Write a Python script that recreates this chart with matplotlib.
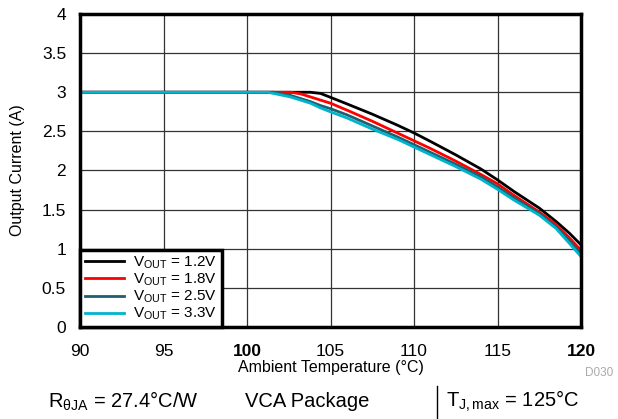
import matplotlib
matplotlib.use("Agg")
import matplotlib.pyplot as plt
import numpy as np

plt.rcParams['font.family'] = ['Liberation Sans', 'DejaVu Sans']
plt.rcParams['mathtext.fontset'] = 'custom'
plt.rcParams['mathtext.rm'] = 'Liberation Sans'
plt.rcParams['mathtext.it'] = 'Liberation Sans'

temps = [90, 100, 101.2, 101.6, 102.6, 103.2, 103.8, 104.4, 105, 106, 107.5, 109, 110, 111, 112.5, 114, 115, 116, 117.5, 118.5, 119.3, 120]
v12 = [3.0, 3.0, 3.0, 3.0, 3.0, 3.0, 3.0, 2.985, 2.935, 2.85, 2.72, 2.58, 2.48, 2.37, 2.20, 2.02, 1.88, 1.73, 1.52, 1.35, 1.20, 1.05]
v18 = [3.0, 3.0, 3.0, 3.0, 3.0, 2.98, 2.94, 2.90, 2.86, 2.77, 2.63, 2.48, 2.38, 2.28, 2.12, 1.95, 1.83, 1.68, 1.47, 1.31, 1.14, 0.98]
v25 = [3.0, 3.0, 3.0, 3.0, 2.96, 2.92, 2.88, 2.83, 2.79, 2.71, 2.57, 2.43, 2.33, 2.23, 2.08, 1.92, 1.79, 1.65, 1.45, 1.28, 1.10, 0.94]
v33 = [3.0, 3.0, 3.0, 2.985, 2.94, 2.90, 2.86, 2.80, 2.75, 2.67, 2.53, 2.40, 2.30, 2.20, 2.05, 1.89, 1.76, 1.62, 1.43, 1.26, 1.07, 0.90]
labels = ['1.2V', '1.8V', '2.5V', '3.3V']
colors = ['#000000', '#FF0000', '#1E5F70', '#00B4CC']

fig = plt.figure(figsize=(6.18, 4.19), dpi=100)
ax = fig.add_axes([80/618, 1-327/419, 501/618, 313/419])
for ys, lab, c in zip([v12, v18, v25, v33], labels, colors):
    ax.plot(temps, ys, color=c, lw=2.0, label=r'V$_{\mathrm{OUT}}$ = ' + lab)

ax.set_xlim(90, 120)
ax.set_ylim(0, 4)
ax.set_xticks(np.arange(90, 121, 5))
ax.set_yticks(np.arange(0, 4.01, 0.5))
ax.set_yticklabels(['0', '0.5', '1', '1.5', '2', '2.5', '3', '3.5', '4'])
ax.grid(True, color='#333333', lw=0.9)
ax.set_axisbelow(True)
for s in ax.spines.values():
    s.set_linewidth(2.5)
ax.tick_params(axis='x', length=0, labelsize=12.5, pad=12)
ax.tick_params(axis='y', length=0, labelsize=12.5, pad=10)
for t in ax.get_xticklabels():
    if t.get_text() in ('100', '120'):
        t.set_fontweight('bold')
ax.set_xlabel('Ambient Temperature (°C)', fontsize=11.5, labelpad=1)
ax.set_ylabel('Output Current (A)', fontsize=11.5, labelpad=12)

leg = ax.legend(loc='lower left', bbox_to_anchor=(0, 0), fontsize=11, frameon=True,
                fancybox=False, borderpad=0.3, handlelength=2.6, labelspacing=0.05,
                borderaxespad=0, handletextpad=0.6)
leg.get_frame().set_edgecolor('black')
leg.get_frame().set_linewidth(2.5)
leg.get_frame().set_alpha(1)

fig.text(585/618, 1-373/419, 'D030', fontsize=8.5, color='#AAAAAA', ha='left', va='center')
fig.text(48/618, 1-401/419, r'R$_{\mathrm{\theta JA}}$ = 27.4°C/W', fontsize=14.5, ha='left', va='center')
fig.text(245/618, 1-401/419, 'VCA Package', fontsize=14.5, ha='left', va='center')
fig.add_artist(plt.Line2D([437/618, 437/618], [1-418/419, 1-386/419], color='black', lw=1))
fig.text(446/618, 1-401/419, r'T$_{\mathrm{J,max}}$ = 125°C', fontsize=14.5, ha='left', va='center')

fig.savefig('out.png', dpi=100)
